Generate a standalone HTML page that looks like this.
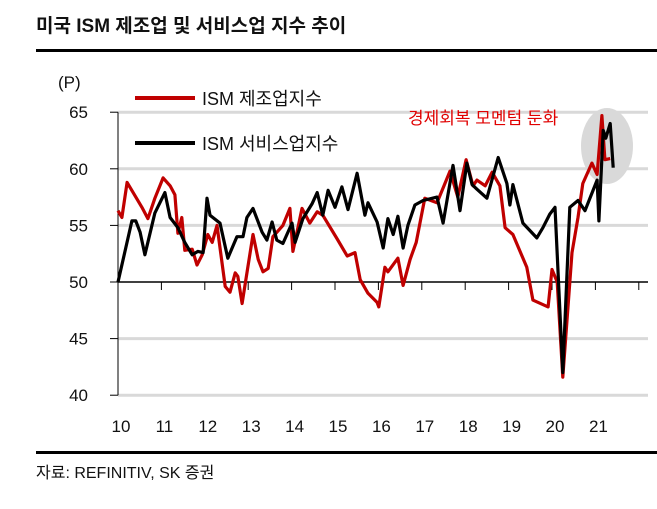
<!DOCTYPE html>
<html><head><meta charset="utf-8"><style>
body{margin:0;background:#fff;}
svg text{font-family:"Liberation Sans","Noto Sans CJK KR",sans-serif;}
</style></head><body>
<svg width="657" height="504" viewBox="0 0 657 504" xmlns="http://www.w3.org/2000/svg">
<text x="36" y="32" font-size="19" font-weight="bold" fill="#111">미국 ISM 제조업 및 서비스업 지수 추이</text>
<rect x="36" y="49" width="621" height="3" fill="#000"/>
<g id="grid"></g>
<ellipse cx="607" cy="146" rx="26" ry="38" fill="#d9d9d9"/>
<g id="axes"></g>
<g id="series"></g>
<text x="58" y="88" font-size="17" fill="#111">(P)</text>
<line x1="135" y1="98" x2="195" y2="98" stroke="#c00000" stroke-width="4"/>
<text x="202" y="105" font-size="18" fill="#111">ISM 제조업지수</text>
<line x1="135" y1="143" x2="195" y2="143" stroke="#000" stroke-width="4"/>
<text x="202" y="150" font-size="18" fill="#111">ISM 서비스업지수</text>
<text x="408" y="124" font-size="17" fill="#e00000">경제회복 모멘텀 둔화</text>
<rect x="36" y="451" width="621" height="3" fill="#000"/>
<text x="36" y="478" font-size="16" fill="#111">자료: REFINITIV, SK 증권</text>
</svg>
<script>
const yTicks=[65,60,55,50,45,40];
const yearLabels=["10","11","12","13","14","15","16","17","18","19","20","21"];
const mfgDates=[2010.00,2010.09,2010.21,2010.55,2010.69,2010.85,2011.04,2011.20,2011.31,2011.38,2011.47,2011.54,2011.71,2011.82,2011.94,2012.07,2012.17,2012.28,2012.47,2012.58,2012.70,2012.76,2012.86,2013.11,2013.23,2013.34,2013.46,2013.57,2013.80,2013.96,2014.03,2014.24,2014.42,2014.59,2014.72,2015.05,2015.28,2015.46,2015.58,2015.76,2015.97,2016.01,2016.15,2016.22,2016.45,2016.57,2016.73,2016.87,2017.07,2017.35,2017.65,2017.83,2018.02,2018.18,2018.27,2018.46,2018.62,2018.80,2018.92,2019.10,2019.42,2019.56,2019.91,2020.00,2020.12,2020.25,2020.46,2020.60,2020.71,2020.92,2021.04,2021.15,2021.22,2021.34];
const mfgValues=[56.3,55.7,58.8,56.6,55.6,57.4,59.2,58.5,57.7,54.3,55.7,52.8,52.9,51.5,52.4,54.2,53.5,55.0,49.6,49.1,50.8,50.5,48.1,54.2,52.0,50.9,51.2,54.0,55.0,56.5,52.7,56.5,55.2,56.2,55.9,53.8,52.3,52.6,50.2,49.0,48.2,47.8,51.3,50.9,52.1,49.7,52.0,53.5,57.4,57.0,59.8,57.5,60.8,58.5,59.0,58.5,59.7,58.5,54.8,54.2,51.3,48.4,47.8,51.1,50.0,41.6,52.6,55.7,58.7,60.5,59.5,64.7,60.8,60.9];
const svcDates=[2010.00,2010.32,2010.41,2010.51,2010.62,2010.85,2011.08,2011.20,2011.38,2011.54,2011.71,2011.84,2011.96,2012.05,2012.12,2012.35,2012.53,2012.74,2012.88,2012.97,2013.11,2013.32,2013.43,2013.55,2013.66,2013.80,2014.01,2014.08,2014.26,2014.47,2014.59,2014.72,2014.84,2015.00,2015.16,2015.30,2015.51,2015.69,2015.76,2015.97,2016.11,2016.22,2016.34,2016.45,2016.57,2016.68,2016.84,2017.03,2017.35,2017.49,2017.72,2017.88,2018.04,2018.16,2018.27,2018.50,2018.76,2018.96,2019.03,2019.10,2019.33,2019.65,2019.79,2019.95,2020.07,2020.25,2020.41,2020.60,2020.76,2021.04,2021.08,2021.18,2021.24,2021.34,2021.41];
const svcValues=[50.0,55.4,55.4,54.4,52.4,56.1,57.9,55.7,54.8,53.5,52.4,52.7,52.6,57.4,55.9,55.2,52.1,54.0,54.0,55.7,56.5,54.4,53.7,55.3,53.7,53.4,55.2,53.5,55.6,56.9,57.9,55.9,58.1,56.6,58.4,56.4,59.6,55.9,57.0,55.3,53.0,55.6,54.2,55.8,53.0,55.0,56.8,57.2,57.5,55.2,60.3,56.3,60.5,58.6,58.2,57.4,61.0,58.7,56.8,58.6,55.2,53.9,54.8,56.0,56.6,42.0,56.6,57.2,56.3,59.0,55.4,63.4,62.7,64.0,60.1];
const NS="http://www.w3.org/2000/svg";
const X0=118,PXY=43.4,Y50=282,PXU=11.32;
function xs(t){return X0+(t-2010)*PXY;}
function ys(v){return Y50-(v-50)*PXU;}
const grid=document.getElementById('grid'),axes=document.getElementById('axes'),ser=document.getElementById('series');
function mk(tag,attrs,parent){const e=document.createElementNS(NS,tag);for(const k in attrs)e.setAttribute(k,attrs[k]);parent.appendChild(e);return e;}
yTicks.forEach(v=>{
  if(v!==50){const g=mk('line',{x1:X0,x2:648,y1:ys(v),y2:ys(v),stroke:'#d9d9d9','stroke-width':3},grid);
  
  }
  const t=mk('line',{x1:X0-8,x2:X0,y1:ys(v),y2:ys(v),stroke:'#000','stroke-width':1},axes);
  
  
  const l=mk('text',{x:88,y:ys(v)+6,'font-size':17,'text-anchor':'end',fill:'#111'},axes);
  l.textContent=v;
  
  
});
const ya=mk('line',{x1:X0,x2:X0,y1:ys(65),y2:ys(40),stroke:'#000','stroke-width':1},axes);


const xa=mk('line',{x1:X0,x2:648,y1:Y50,y2:Y50,stroke:'#000','stroke-width':1.5},axes);


for(let i=0;i<=12;i++){
  const tk=mk('line',{x1:xs(2010+i),x2:xs(2010+i),y1:Y50,y2:Y50+8,stroke:'#000','stroke-width':1},axes);
  
  
}
yearLabels.forEach((s,i)=>{
  const l=mk('text',{x:xs(2010+i)+3,y:432,'font-size':17,'text-anchor':'middle',fill:'#111'},axes);
  l.textContent=s;
  
  
});
function line(d,v,color,name){
  const p=d.map((t,i)=>xs(t).toFixed(1)+','+ys(v[i]).toFixed(1)).join(' ');
  const e=mk('polyline',{points:p,fill:'none',stroke:color,'stroke-width':3.2,'stroke-linejoin':'round'},ser);
  
  
}
line(mfgDates,mfgValues,'#c00000','series-ism-manufacturing');
line(svcDates,svcValues,'#000','series-ism-services');
</script>
</body></html>
